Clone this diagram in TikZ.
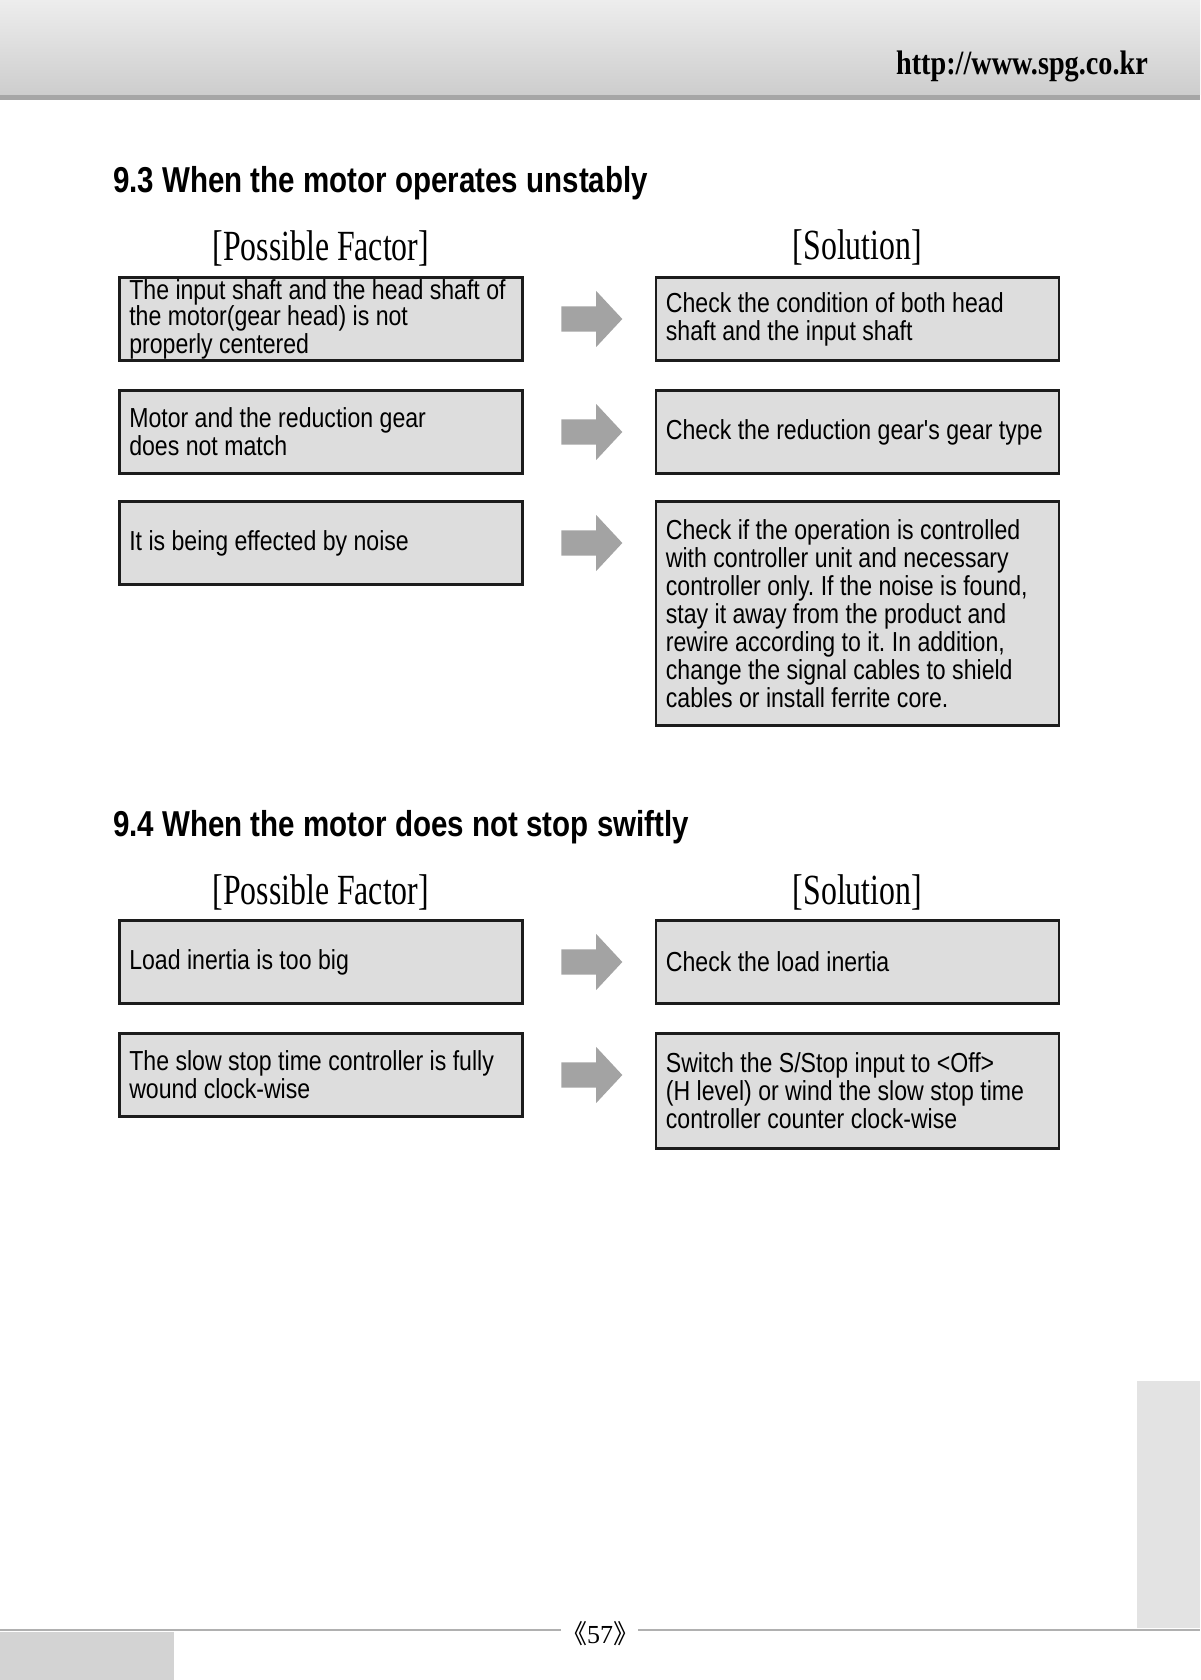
\documentclass[tikz,border=0pt]{standalone}
\usepackage{fontspec}
\setmainfont{Liberation Serif}
\newfontfamily\boxfont{Liberation Sans}[FakeStretch=0.84]
\newfontfamily\titlefont{Liberation Sans}[FakeStretch=0.82]
\newfontfamily\headfont{Liberation Serif}[FakeStretch=0.74]
\newfontfamily\urlfont{Liberation Serif}[FakeStretch=0.83]
\newfontfamily\cjk{Noto Sans CJK SC}
\usetikzlibrary{positioning, shapes.arrows, calc}
\definecolor{chtop}{HTML}{EDEDED}
\definecolor{chbot}{HTML}{CDCDCD}
\definecolor{chline}{HTML}{A6A6A6}
\definecolor{cbox}{HTML}{DDDDDD}
\definecolor{cedge}{HTML}{1C1C1C}
\definecolor{carrow}{HTML}{A3A3A3}
\definecolor{ctab}{HTML}{E3E3E3}
\definecolor{cfoot}{HTML}{D3D3D3}
\definecolor{cline}{HTML}{B0B0B0}
\frenchspacing
\tikzset{
  box/.style={draw=cedge, fill=cbox, line width=2.6pt, text width=383pt, inner xsep=10pt, inner ysep=4pt,
    minimum height=83.4pt, align=flush left, font=\boxfont\fontsize{27.5}{28}\selectfont},
  blockarrow/.style={single arrow, fill=carrow, inner xsep=0pt, inner ysep=12.5pt, minimum height=61pt,
    single arrow head extend=15.5pt, single arrow tip angle=94, anchor=tip},
  sectitle/.style={font=\titlefont\bfseries\fontsize{36}{40}\selectfont, inner sep=0pt},
  colhead/.style={font=\headfont\fontsize{43}{48}\selectfont, inner sep=0pt},
}

\begin{document}
\begin{tikzpicture}[x=1pt, y=-1pt, node distance=26pt]
  \useasboundingbox (0,0) rectangle (1200,1680);
  % page frame
  \shade[top color=chtop, bottom color=chbot] (0,0) rectangle (1200,95);
  \fill[chline] (0,95) rectangle (1200,100);
  \fill[ctab] (1137,1381) rectangle (1200,1628);
  \fill[cfoot] (0,1632) rectangle (174,1680);
  \draw[cline, line width=2pt] (0,1630) -- (561,1630) (638,1630) -- (1200,1630);
  \node[font=\urlfont\bfseries\fontsize{34}{38}\selectfont, inner sep=0pt, anchor=base east] (url) at (1148,75) {http://www.spg.co.kr};
  \node[font=\fontsize{26}{28}\selectfont, inner sep=0pt] (page) at (600,1634) {{\cjk 《}57{\cjk 》}};

  % 9.3
  \node[sectitle, anchor=base west] (t93) at (113,193) {9.3 When the motor operates unstably};
  \node[box, inner ysep=1pt, anchor=north west] (f1) at (118,276) {\fontsize{27.5}{26}\selectfont The input shaft and the head shaft of\\ the motor(gear head) is not\\ properly centered};
  \node[box, below=27pt of f1] (f2) {Motor and the reduction gear\\ does not match};
  \node[box, below=25pt of f2] (f3) {It is being effected by noise};
  \node[box, right=131pt of f1] (s1) {Check the condition of both head\\ shaft and the input shaft};
  \node[box, right=131pt of f2] (s2) {Check the reduction gear's gear type};
  \node[box, minimum height=224.4pt, right=131pt of f3.north east, anchor=north west] (s3) {Check if the operation is controlled\\ with controller unit and necessary\\ controller only. If the noise is found,\\ stay it away from the product and\\ rewire according to it. In addition,\\ change the signal cables to shield\\ cables or install ferrite core.};
  \node[colhead, above=15pt of f1, anchor=base] (pf1) {[Possible Factor]};
  \node[colhead, above=16pt of s1, anchor=base] (so1) {[Solution]};
  \foreach \f in {1,2,3}
    \node[blockarrow] (a\f) at ($(f\f.east)+(99,0)$) {};

  % 9.4
  \node[sectitle, anchor=base west] (t94) at (113,836) {9.4 When the motor does not stop swiftly};
  \node[box, anchor=north west] (g1) at (118,919) {Load inertia is too big};
  \node[box, below=27pt of g1] (g2) {The slow stop time controller is fully\\ wound clock-wise};
  \node[box, right=131pt of g1] (r1) {Check the load inertia};
  \node[box, minimum height=115.4pt, right=131pt of g2.north east, anchor=north west] (r2) {Switch the S/Stop input to <Off>\\ (H level) or wind the slow stop time\\ controller counter clock-wise};
  \node[colhead, above=15pt of g1, anchor=base] (pf2) {[Possible Factor]};
  \node[colhead, above=15pt of r1, anchor=base] (so2) {[Solution]};
  \foreach \f in {1,2}
    \node[blockarrow] (b\f) at ($(g\f.east)+(99,0)$) {};
\end{tikzpicture}
\end{document}
